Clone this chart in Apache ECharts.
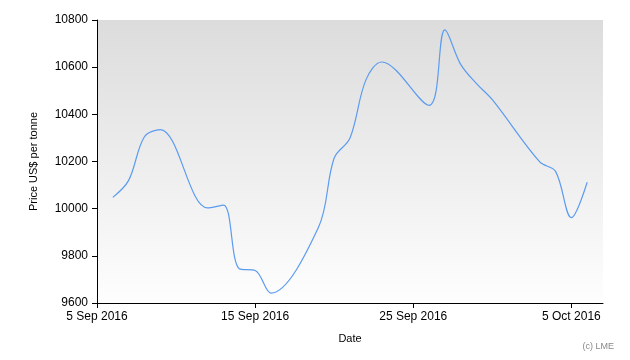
<!DOCTYPE html>
<html>
<head>
<meta charset="utf-8">
<script src="https://cdn.jsdelivr.net/npm/echarts@6/dist/echarts.min.js"></script>
<style>html,body{margin:0;padding:0;background:#fff}#c{width:630px;height:360px}</style>
</head>
<body>
<div id="c"></div>
<script>
var dates = ['2016-09-06','2016-09-07','2016-09-08','2016-09-09','2016-09-12','2016-09-13','2016-09-14','2016-09-15','2016-09-16','2016-09-19','2016-09-20','2016-09-21','2016-09-22','2016-09-23','2016-09-26','2016-09-27','2016-09-28','2016-09-29','2016-09-30','2016-10-03','2016-10-04','2016-10-05','2016-10-06'];
var prices = [10048,10120,10305,10335,10003,10015,9745,9738,9642,9920,10215,10300,10545,10622,10438,10758,10612,10530,10462,10198,10158,9962,10112];
var xTickLabels = ['5 Sep 2016','15 Sep 2016','25 Sep 2016','5 Oct 2016'];
var yTicks = [9600,9800,10000,10200,10400,10600,10800];

var startDate = Date.UTC(2016,8,5);
var DAY = 86400000;
function dayOffset(s){var p=s.split('-');return Math.round((Date.UTC(+p[0],+p[1]-1,+p[2])-startDate)/DAY);}
var seriesData = dates.map(function(d,i){return [dayOffset(d), prices[i]];});
var xTickVals = [0,10,20,30];

var chart = echarts.init(document.getElementById('c'), null, {renderer:'canvas'});
var font = 'Liberation Sans, Arial, sans-serif';
chart.setOption({
  animation:false,
  grid:{left:97,right:27,top:20,bottom:57,show:true,borderWidth:0,
    backgroundColor:new echarts.graphic.LinearGradient(0,0,0,1,[{offset:0,color:'#dcdcdc'},{offset:1,color:'#fefefe'}])},
  xAxis:{type:'value',min:0,max:32,interval:10,
    name:'Date',nameLocation:'middle',nameGap:30,
    nameTextStyle:{color:'#000',fontSize:11,fontFamily:font},
    axisLine:{show:true,lineStyle:{color:'#000',width:1}},
    axisTick:{show:true,length:5,lineStyle:{color:'#000'},customValues:xTickVals},
    axisLabel:{color:'#000',fontSize:12,fontFamily:font,margin:8,customValues:xTickVals,
      formatter:function(v){var i=xTickVals.indexOf(v);return i>=0?xTickLabels[i]:'';}},
    splitLine:{show:false}},
  yAxis:{type:'value',min:yTicks[0],max:yTicks[yTicks.length-1],interval:200,
    name:'Price US$ per tonne',nameLocation:'middle',nameGap:58,
    nameTextStyle:{color:'#000',fontSize:11,fontFamily:font},
    axisLine:{show:true,lineStyle:{color:'#000',width:1}},
    axisTick:{show:true,length:5,lineStyle:{color:'#000'}},
    axisLabel:{color:'#000',fontSize:12,fontFamily:font,margin:9,formatter:function(v){return String(v);}},
    splitLine:{show:false}},
  graphic:[{type:'text',right:16,bottom:9,style:{text:'(c) LME',fill:'#888',font:'9px '+font}}],
  series:[{type:'line',data:seriesData,smooth:0.35,symbol:'none',
    lineStyle:{color:'#5b9bf0',width:1.2}}]
});
</script>
</body>
</html>
